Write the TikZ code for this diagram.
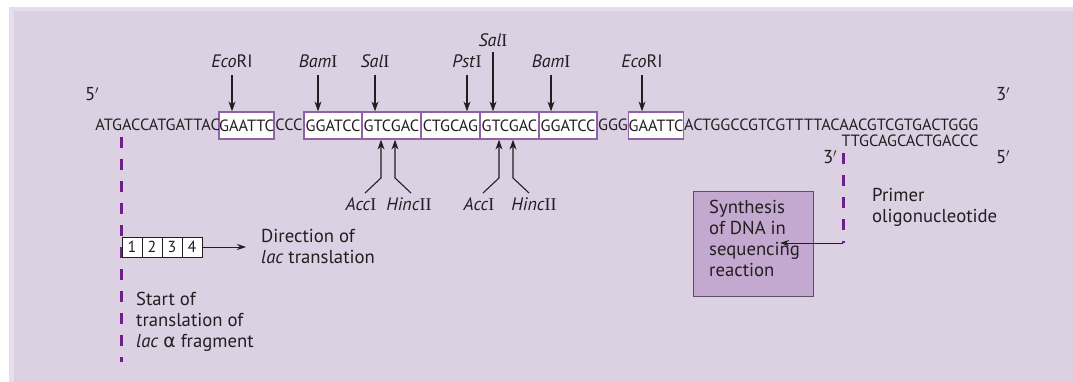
\documentclass[tikz,border=0pt]{standalone}
\usepackage{fontspec}
\setmainfont{PT Sans}
\newfontfamily\symf{DejaVu Sans}
\newfontfamily\serI{Liberation Serif}
\usetikzlibrary{arrows.meta}
\definecolor{bgc}{HTML}{DCD0E3}
\definecolor{bgl}{HTML}{E6DEEC}
\definecolor{boxc}{HTML}{8F62A8}
\definecolor{dashc}{HTML}{6E1F8A}
\definecolor{synf}{HTML}{C3A8D0}
\definecolor{synd}{HTML}{5B5060}
\definecolor{ink}{HTML}{231F20}
\newcommand{\pri}{$'$}
\newcommand{\rn}[1]{{\serI #1}}
\begin{document}
\begin{tikzpicture}[x=1pt,y=-1pt,
  every node/.style={inner sep=0pt, text=ink},
  seq/.style={font=\fontsize{16.3}{18}\selectfont},
  site/.style={draw=boxc, line width=1.2pt, fill=white, minimum height=27pt, font=\fontsize{16.3}{18}\selectfont},
  lab/.style={font=\fontsize{18.7}{21}\selectfont, align=left},
  enz/.style={font=\fontsize{18}{20}\selectfont},
  arr/.style={draw=ink, -{Stealth[length=10pt,width=7pt]}, line width=1.1pt},
  arrthin/.style={draw=ink, -{Stealth[length=9pt,width=6pt]}, line width=0.9pt},
  dashv/.style={draw=dashc, line width=3pt, dash pattern=on 11pt off 11pt},
  numbox/.style={draw=ink, line width=0.8pt, fill=white, minimum width=20pt, minimum height=20pt, font=\fontsize{16}{18}\selectfont},
  synbox/.style={draw=synd, line width=1pt, fill=synf, minimum width=120pt, minimum height=104pt}
]
\useasboundingbox (0,0) rectangle (1073,382);
\fill[white] (0,0) rectangle (1073,382);
\fill[bgl] (9,7) rectangle (1073,382);
\fill[bgc] (14,11) rectangle (1073,382);

% dashed start line
\coordinate (ls1) at (121,137);
\coordinate (ls2) at (121,362);
\draw[dashv] (ls1) -- (ls2);

% restriction site boxes
\node[site, minimum width=55pt] (e1) at (246.5,125.5) {GAATTC};
\node[site, minimum width=58pt] (b1) at (333,125.5) {GGATCC};
\node[site, minimum width=59pt] (s1) at (391.5,125.5) {GTCGAC};
\node[site, minimum width=59pt] (p1) at (450.5,125.5) {CTGCAG};
\node[site, minimum width=59pt] (s2) at (509.5,125.5) {GTCGAC};
\node[site, minimum width=58pt] (b2) at (568,125.5) {GGATCC};
\node[site, minimum width=54pt] (e2) at (656,125.5) {GAATTC};

% sequence pieces
\node[seq, anchor=base east] (t0) at (220,131) {ATGACCATGATTAC};
\node[seq, anchor=base] (t1) at (289,131) {CCC};
\node[seq, anchor=base] (t2) at (613,131) {GGG};
\node[seq, anchor=base west] (t3) at (684,131) {ACTGGCCGTCGTTTTACAACGTCGTGACTGGG};
\node[seq, anchor=base east] (t4) at (t3.base east) [yshift=-16pt] {TTGCAGCACTGACCC};

% ends
\node[lab, anchor=base] (p5l) at (92,101) {5\pri};
\node[lab, anchor=base] (p3r) at (1003,101) {3\pri};
\node[lab, anchor=base] (p5r) at (1003,164) {5\pri};
\node[lab, anchor=base] (p3m) at (830,164) {3\pri};

% enzyme labels above
\node[enz, anchor=base] (le1) at (232,68) {\textit{Eco}RI};
\node[enz, anchor=base] (lb1) at (318,68) {\textit{Bam}\rn{I}};
\node[enz, anchor=base] (ls1l) at (375,68) {\textit{Sal}\rn{I}};
\node[enz, anchor=base] (lp1) at (467,68) {\textit{Pst}\rn{I}};
\node[enz, anchor=base] (ls2l) at (493,47) {\textit{Sal}\rn{I}};
\node[enz, anchor=base] (lb2) at (551,68) {\textit{Bam}\rn{I}};
\node[enz, anchor=base] (le2) at (642,68) {\textit{Eco}RI};

\draw[arr, shorten <=7pt] (le1.south) -- (le1.south |- e1.north);
\draw[arr, shorten <=7pt] (lb1.south) -- (lb1.south |- b1.north);
\draw[arr, shorten <=7pt] (ls1l.south) -- (ls1l.south |- s1.north);
\draw[arr, shorten <=7pt] (lp1.south) -- (lp1.south |- p1.north);
\draw[arr, shorten <=5pt] (ls2l.south) -- (ls2l.south |- s2.north);
\draw[arr, shorten <=7pt] (lb2.south) -- (lb2.south |- b2.north);
\draw[arr, shorten <=7pt] (le2.south) -- (le2.south |- e2.north);

% enzyme labels below
\node[enz, anchor=base] (la1) at (361,211) {\textit{Acc}\rn{I}};
\node[enz, anchor=base] (lh1) at (409,211) {\textit{Hinc}\rn{II}};
\node[enz, anchor=base] (la2) at (479,211) {\textit{Acc}\rn{I}};
\node[enz, anchor=base] (lh2) at (534,211) {\textit{Hinc}\rn{II}};

\coordinate (ka1) at (381,178); \coordinate (da1) at (365,193);
\coordinate (kh1) at (395,178); \coordinate (dh1) at (411,193);
\coordinate (ka2) at (499,178); \coordinate (da2) at (483,193);
\coordinate (kh2) at (513,178); \coordinate (dh2) at (529,193);
\draw[arr] (da1) -- (ka1) -- (ka1 |- s1.south);
\draw[arr] (dh1) -- (kh1) -- (kh1 |- s1.south);
\draw[arr] (da2) -- (ka2) -- (ka2 |- s2.south);
\draw[arr] (dh2) -- (kh2) -- (kh2 |- s2.south);

% codon boxes
\node[numbox] (n1) at (132,247) {1};
\node[numbox] (n2) at (152,247) {2};
\node[numbox] (n3) at (172,247) {3};
\node[numbox] (n4) at (192,247) {4};
\coordinate (dirEnd) at (246,247);
\draw[arrthin] (n4.east) -- (dirEnd);

\node[lab, anchor=west] (dir) at (261,246.5) {Direction of\\\textit{lac} translation};
\node[lab, anchor=west] (start) at (136,322) {Start of\\translation of\\\textit{lac} {\symf α} fragment};

% synthesis box and primer
\node[synbox] (syn) at (753,244) {};
\node[lab, anchor=north west] (syntxt) at (709,199.5) {Synthesis\\of DNA in\\sequencing\\reaction};
\coordinate (pTop) at (843,153);
\coordinate (pBot) at (843,243);
\coordinate (synEnd) at (780,243);
\draw[dashv] (pTop) -- (pBot);
\draw[arrthin] (pBot) -- (synEnd);
\node[lab, anchor=west] (primer) at (872,207.5) {Primer\\oligonucleotide};
\end{tikzpicture}
\end{document}
